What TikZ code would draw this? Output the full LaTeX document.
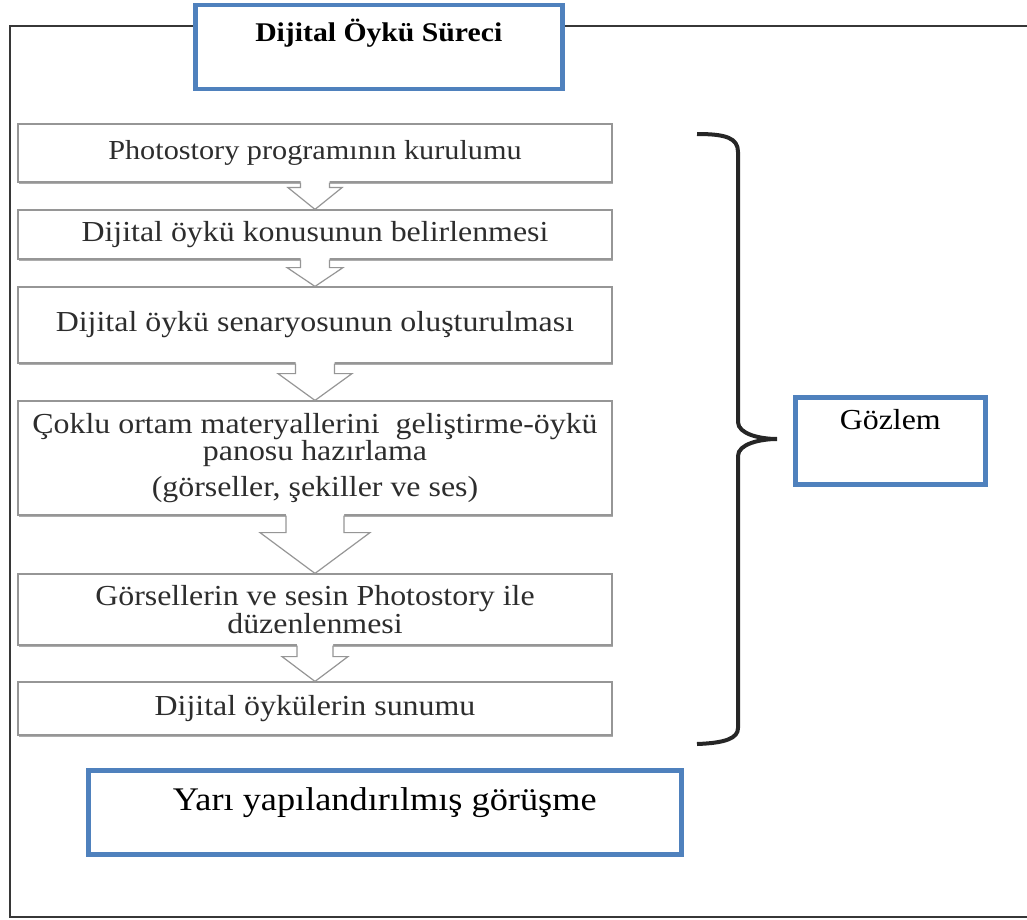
\documentclass[tikz,border=0pt]{standalone}
\usepackage{fontspec}
\setmainfont{Liberation Serif}[FakeStretch=1.1]
\usepackage{xcolor}
\usepackage{tikz}
\usetikzlibrary{calc,shadows}

\definecolor{boxblue}{RGB}{79,129,189}
\definecolor{framegray}{RGB}{55,55,55}
\definecolor{stepgray}{RGB}{150,150,150}
\definecolor{steptext}{RGB}{45,45,45}

\begin{document}
\begin{tikzpicture}[x=1pt, y=-1pt,
  stepbox/.style={draw=stepgray, line width=1.2pt, fill=white, inner sep=0pt,
    minimum width=594pt, align=center, text=steptext,
    drop shadow={shadow xshift=0.6pt, shadow yshift=-1.6pt, fill=gray!80, opacity=0.8},
    font=\fontsize{29}{25}\selectfont},
  bluebox/.style={draw=boxblue, line width=4.5pt, fill=white, inner sep=0pt, anchor=north west},
  arrowline/.style={draw=stepgray, line width=1.2pt, line join=miter}]
  \useasboundingbox (0,0) rectangle (1027,920);
  % outer frame, right side runs off the page
  \draw[framegray, line width=2.5pt] (10,26) rectangle (1045,917);
  \node[bluebox, minimum width=367pt, text height=36pt, text depth=48pt,
    font=\bfseries\fontsize{27}{30}\selectfont] (title) at (193,3) {Dijital Öykü Süreci};

  % process steps
  \node[stepbox, minimum height=58pt, font=\fontsize{27.5}{25}\selectfont] (step1) at (315,153) {Photostory programının\ kurulumu};
  \node[stepbox, minimum height=49pt] (step2) at (315,234.5) {Dijital öykü konusunun belirlenmesi};
  \node[stepbox, minimum height=76pt] (step3) at (315,325) {Dijital öykü senaryosunun oluşturulması};
  \node[stepbox, minimum height=114pt] (step4) at (315,458) {Çoklu ortam materyallerini\ \ geliştirme-öykü\\panosu hazırlama\\[8pt](görseller, şekiller ve ses)};
  \node[stepbox, minimum height=71pt] (step5) at (315,609.5) {Görsellerin ve sesin Photostory ile\\düzenlenmesi};
  \node[stepbox, minimum height=53pt] (step6) at (315,708.5) {Dijital öykülerin\ sunumu};

  % hollow arrows: from/to/shaft/head/neck
  \foreach \a/\b/\s/\h/\n in {step1/step2/14.5/27/5, step2/step3/14.5/28/8,
      step3/step4/19.5/37/10, step4/step5/29/55/17, step5/step6/18/33/11} {
    \fill[white] ($(\a.south)+(-\s,-1.5)$) -- ($(\a.south)+(-\s,\n)$) -- ($(\a.south)+(-\h,\n)$)
      -- (\b.north) -- ($(\a.south)+(\h,\n)$) -- ($(\a.south)+(\s,\n)$) -- ($(\a.south)+(\s,-1.5)$) -- cycle;
    \draw[arrowline] ($(\a.south)+(-\s,0)$) -- ($(\a.south)+(-\s,\n)$) -- ($(\a.south)+(-\h,\n)$)
      -- (\b.north) -- ($(\a.south)+(\h,\n)$) -- ($(\a.south)+(\s,\n)$) -- ($(\a.south)+(\s,0)$);
  }

  % brace
  \draw[black!85, line width=4pt] (697,134) .. controls (726,134) and (738,138) .. (738,152)
    -- (738,422) .. controls (738,434) and (760,439) .. (777,439)
    .. controls (760,439) and (738,444) .. (738,456)
    -- (738,728) .. controls (738,738) and (726,743) .. (697,744);

  \node[bluebox, minimum width=190pt, text height=32pt, text depth=55pt,
    font=\fontsize{29}{30}\selectfont] (gozlem) at (793,395) {Gözlem};
  \node[bluebox, minimum width=593pt, text height=40pt, text depth=44pt,
    font=\fontsize{33}{36}\selectfont] (yari) at (86,768) {Yarı yapılandırılmış görüşme};
\end{tikzpicture}
\end{document}
